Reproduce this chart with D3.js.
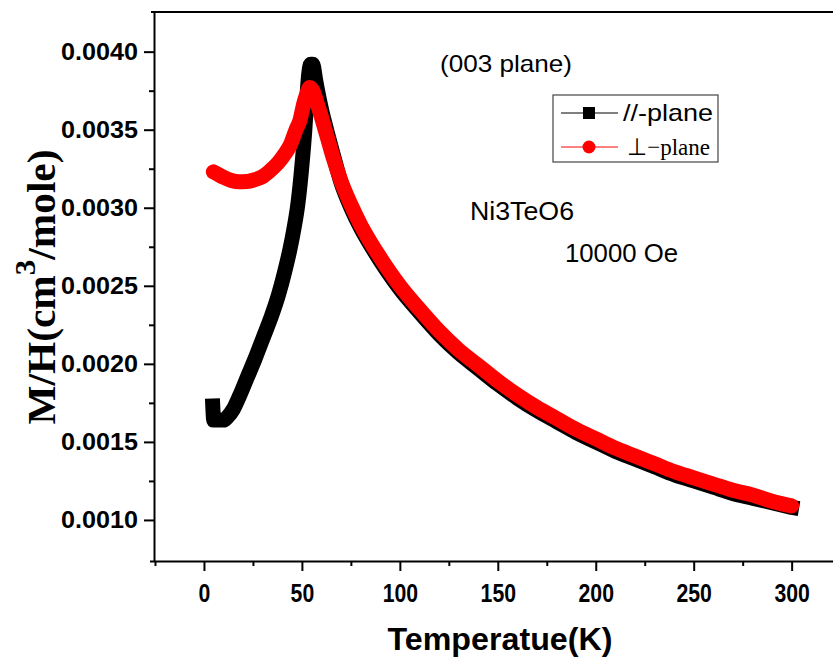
<!DOCTYPE html>
<html><head><meta charset="utf-8">
<script src="https://cdn.jsdelivr.net/npm/d3@7"></script>
<style>body{margin:0;background:#fff}</style>
</head><body>
<svg id="c" width="833" height="660"></svg>
<script>
// ---- data ----
const parT = [4.5, 5, 8, 10, 12, 15, 18, 22, 26, 30, 34, 38, 41, 44, 46, 48, 50, 51.5, 52.5, 53.5, 54.5, 55.5, 57, 58, 60, 63, 66, 70, 75, 80, 85, 90, 100, 110, 120, 130, 140, 150, 160, 170, 180, 190, 200, 210, 220, 230, 240, 250, 260, 270, 280, 290, 300];
const parM = [0.00173, 0.00164, 0.00164, 0.00164, 0.00166, 0.00171, 0.00179, 0.00191, 0.00203, 0.00216, 0.00229, 0.00244, 0.00258, 0.00274, 0.00287, 0.00303, 0.00327, 0.00350, 0.00370, 0.00386, 0.00392, 0.00392, 0.00382, 0.00375, 0.00363, 0.00348, 0.00334, 0.00316, 0.00300, 0.00287, 0.00276, 0.00266, 0.00248, 0.00233, 0.00219, 0.00207, 0.00197, 0.00187, 0.00178, 0.00170, 0.00163, 0.00156, 0.00150, 0.00144, 0.00139, 0.00134, 0.00129, 0.00125, 0.00121, 0.00117, 0.00114, 0.00111, 0.00108];
const perpT = [4.8, 7, 10, 14, 18, 22, 26, 30, 34, 38, 41, 44, 47, 49, 51, 52.5, 54, 55.5, 57, 58, 60, 63, 66, 70, 75, 80, 85, 90, 100, 110, 120, 130, 140, 150, 160, 170, 180, 190, 200, 210, 220, 230, 240, 250, 260, 270, 280, 290, 300];
const perpM = [0.00323, 0.003215, 0.003195, 0.003175, 0.003166, 0.003168, 0.00318, 0.00320, 0.00324, 0.00329, 0.00334, 0.00340, 0.00350, 0.00356, 0.00367, 0.00373, 0.00377, 0.00375, 0.00370, 0.00366, 0.00358, 0.00345, 0.00332, 0.00317, 0.00302, 0.00289, 0.00278, 0.00268, 0.00250, 0.00235, 0.00221, 0.00209, 0.00199, 0.00189, 0.00180, 0.00172, 0.00165, 0.00158, 0.00152, 0.00146, 0.00141, 0.00136, 0.00131, 0.00127, 0.00123, 0.00119, 0.00116, 0.00112, 0.00109];
const xMajor = [0, 50, 100, 150, 200, 250, 300];
const xMinor = [-25, 25, 75, 125, 175, 225, 275, 325];
const yMajor = [0.0010, 0.0015, 0.0020, 0.0025, 0.0030, 0.0035, 0.0040];
const yMinor = [0.00125, 0.00175, 0.00225, 0.00275, 0.00325, 0.00375];
const seriesNames = ["//-plane", "\u22A5\u2212plane"];
const notes = ["(003 plane)", "Ni3TeO6", "10000 Oe"];

// ---- layout ----
const svg = d3.select("#c");
const L = 154, T = 12, B = 561, R = 870;
const x = d3.scaleLinear().domain([-25.5, 340]).range([L, R]);
const y = d3.scaleLinear().domain([0.000737, 0.004254]).range([B, T]);
const sans = "'Liberation Sans', Arial, sans-serif";
const serif = "'Liberation Serif', 'Times New Roman', serif";

svg.append("clipPath").attr("id", "clip").append("rect")
  .attr("x", L).attr("y", T).attr("width", 833 - L).attr("height", B - T);

// frame top line
svg.append("line").attr("x1", L - 3).attr("x2", 833).attr("y1", T).attr("y2", T)
  .attr("stroke", "#000").attr("stroke-width", 2);

// axes
function styleAxis(g) {
  g.selectAll(".domain").attr("stroke", "#000").attr("stroke-width", 2);
  g.selectAll(".tick line").attr("stroke", "#000").attr("stroke-width", 2);
}
const gx = svg.append("g").attr("transform", `translate(0,${B})`)
  .call(d3.axisBottom(x).tickValues(xMajor).tickSize(10).tickSizeOuter(0).tickPadding(13).tickFormat(d3.format("d")));
styleAxis(gx);
gx.select(".domain").attr("d", `M${L - 4},0.5H833`);
gx.selectAll(".tick text").attr("font-family", sans).attr("font-weight", "bold")
  .attr("font-size", 25).attr("fill", "#000")
  .attr("textLength", d => String(d).length * 11.8).attr("lengthAdjust", "spacingAndGlyphs");
const gxm = svg.append("g").attr("transform", `translate(0,${B})`)
  .call(d3.axisBottom(x).tickValues(xMinor).tickSize(5).tickFormat(""));
styleAxis(gxm); gxm.select(".domain").remove();

const gy = svg.append("g").attr("transform", `translate(${L},0)`)
  .call(d3.axisLeft(y).tickValues(yMajor).tickSize(10).tickSizeOuter(0).tickPadding(6).tickFormat(d3.format(".4f")));
styleAxis(gy);
gy.select(".domain").attr("d", `M0.5,${T}V${B}`);
gy.selectAll(".tick text").attr("font-family", sans).attr("font-weight", "bold")
  .attr("font-size", 24).attr("fill", "#000")
  .attr("textLength", 77).attr("lengthAdjust", "spacingAndGlyphs");
const gym = svg.append("g").attr("transform", `translate(${L},0)`)
  .call(d3.axisLeft(y).tickValues(yMinor).tickSize(5).tickFormat(""));
styleAxis(gym); gym.select(".domain").remove();

// data
const plot = svg.append("g").attr("clip-path", "url(#clip)");
const parData = parT.map((t, i) => [t, parM[i]]);
const perpData = perpT.map((t, i) => [t, perpM[i]]);
const line = d3.line().x(d => x(d[0])).y(d => y(d[1])).curve(d3.curveMonotoneX);

plot.append("path").datum(parData).attr("d", line).attr("fill", "none")
  .attr("stroke", "#000").attr("stroke-width", 15).attr("stroke-linecap", "square").attr("stroke-linejoin", "round");

plot.append("path").datum(perpData).attr("d", line).attr("fill", "none")
  .attr("stroke", "#ff0000").attr("stroke-width", 15).attr("stroke-linecap", "round").attr("stroke-linejoin", "round");

// axis titles
svg.append("text").attr("x", 500).attr("y", 650).attr("text-anchor", "middle")
  .attr("font-family", sans).attr("font-weight", "bold").attr("font-size", 31)
  .attr("textLength", 225).attr("lengthAdjust", "spacingAndGlyphs").text("Temperatue(K)");

const yt = svg.append("text").attr("transform", "translate(55,287) rotate(-90)").attr("text-anchor", "middle")
  .attr("font-family", serif).attr("font-weight", "bold").attr("font-size", 40)
  .attr("textLength", 275).attr("lengthAdjust", "spacingAndGlyphs");
yt.append("tspan").text("M/H(cm");
yt.append("tspan").attr("font-size", 30).attr("dy", -20).text("3");
yt.append("tspan").attr("dy", 20).text("/mole)");

// legend
const lg = svg.append("g");
lg.append("rect").attr("x", 553).attr("y", 95).attr("width", 165).attr("height", 67)
  .attr("fill", "#fff").attr("stroke", "#444").attr("stroke-width", 1.2);
lg.append("line").attr("x1", 561).attr("x2", 618).attr("y1", 113).attr("y2", 113).attr("stroke", "#000").attr("stroke-width", 1);
lg.append("rect").attr("x", 583).attr("y", 107).attr("width", 12).attr("height", 12).attr("fill", "#000");
lg.append("text").attr("x", 623).attr("y", 121).attr("font-family", sans).attr("font-size", 24)
  .attr("textLength", 90).attr("lengthAdjust", "spacingAndGlyphs").text(seriesNames[0]);
lg.append("line").attr("x1", 561).attr("x2", 618).attr("y1", 147).attr("y2", 147).attr("stroke", "#ff0000").attr("stroke-width", 1);
lg.append("circle").attr("cx", 589).attr("cy", 147).attr("r", 6.5).attr("fill", "#ff0000");
lg.append("text").attr("x", 627).attr("y", 155).attr("font-family", serif).attr("font-size", 24)
  .attr("textLength", 83).attr("lengthAdjust", "spacingAndGlyphs").text(seriesNames[1]);

// annotations
svg.append("text").attr("x", 440).attr("y", 72).attr("font-family", sans).attr("font-size", 24)
  .attr("textLength", 132).attr("lengthAdjust", "spacingAndGlyphs").text(notes[0]);
svg.append("text").attr("x", 470).attr("y", 220).attr("font-family", sans).attr("font-size", 25)
  .attr("textLength", 104).attr("lengthAdjust", "spacingAndGlyphs").text(notes[1]);
svg.append("text").attr("x", 565).attr("y", 262).attr("font-family", sans).attr("font-size", 25)
  .attr("textLength", 113).attr("lengthAdjust", "spacingAndGlyphs").text(notes[2]);
</script>
</body></html>
